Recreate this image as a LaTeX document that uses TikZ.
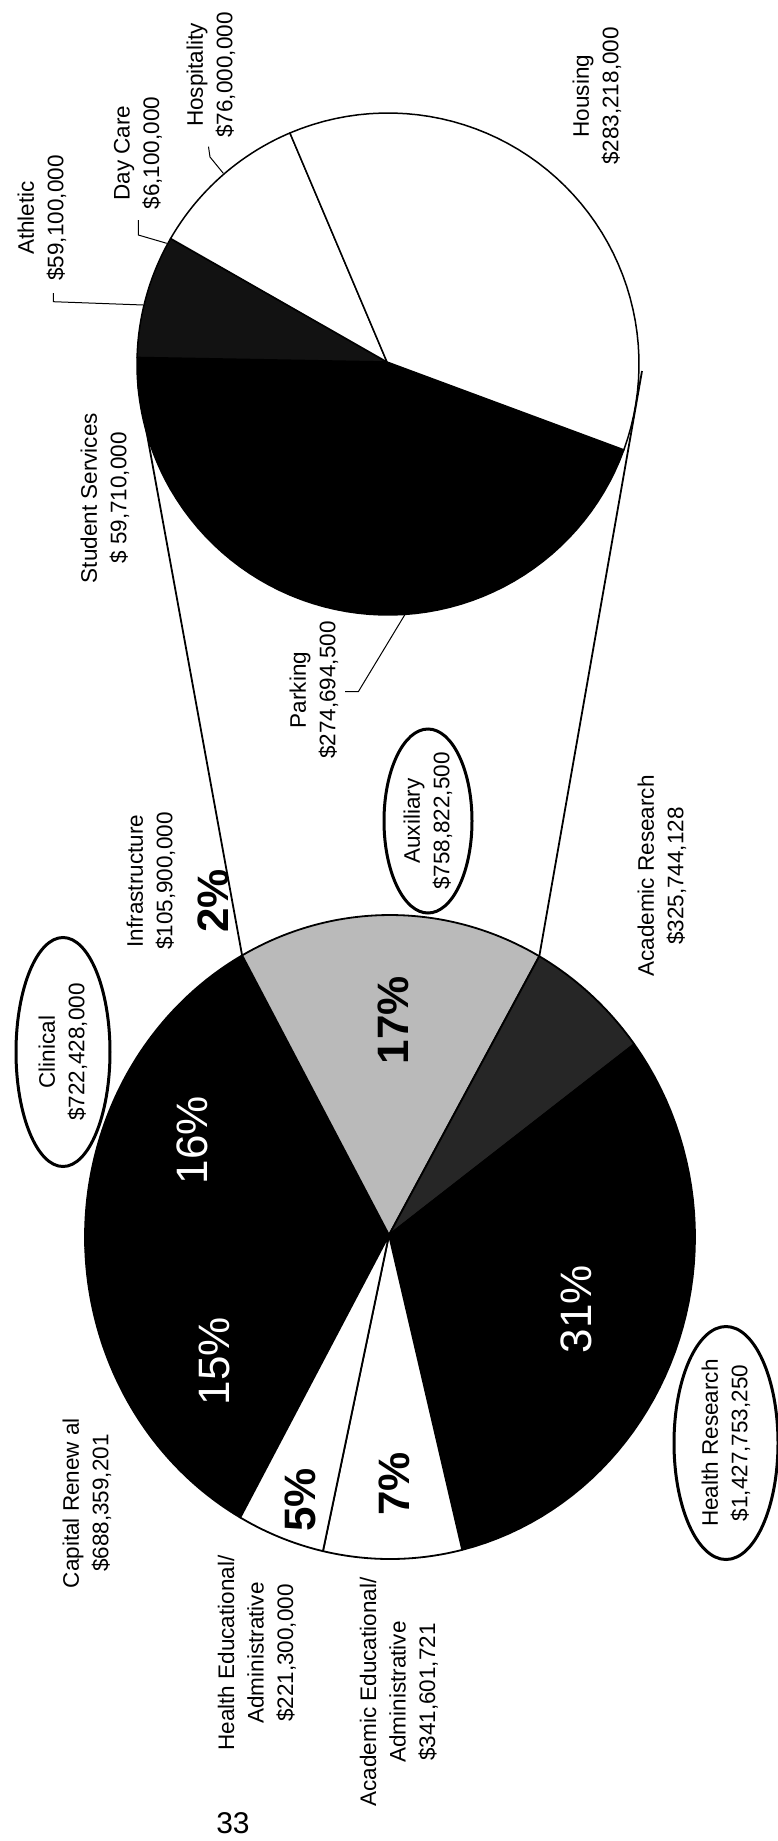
\documentclass[tikz,border=0pt]{standalone}
\usepackage{fontspec}
\setmainfont{Liberation Sans}
\usetikzlibrary{shapes.geometric}
% big pie: centre (390,1237), radii 305 x 322 ; small pie: centre (388,364), radius 251
\newcommand\bigslice[3]{\path[slice,fill=#3] (B) -- plot[domain=#1:#2,samples=50] ({390+305*cos(\x)},{1237+322*sin(\x)}) -- cycle;}
\newcommand\smallslice[3]{\path[sslice,fill=#3] (S) -- plot[domain=#1:#2,samples=50] ({388+251*cos(\x)},{364+251*sin(\x)}) -- cycle;}
\begin{document}
\begin{tikzpicture}[x=1pt,y=-1pt,
  lbl/.style={rotate=90, align=center, font=\fontsize{22.5}{29.5}\selectfont, inner sep=0pt},
  oval/.style={lbl, ellipse, draw=black, line width=3pt, inner ysep=0pt, inner xsep=-4pt},
  pctw/.style={rotate=90, text=white, font=\fontsize{44}{44}\selectfont, inner sep=0pt},
  pctb/.style={rotate=90, text=black, font=\fontsize{44}{44}\selectfont\bfseries, inner sep=0pt},
  slice/.style={draw=black, line width=1.8pt, line join=round},
  sslice/.style={draw=black, line width=1.5pt, line join=round},
  link/.style={draw=black, line width=1.8pt},
  leader/.style={draw=black, line width=1pt}]
\useasboundingbox (0,0) rectangle (778,1841);
\fill[white] (0,0) rectangle (778,1841);

% ---------- big pie ----------
\coordinate (B) at (389,1235);
\bigslice{119.4}{178}{black}
\bigslice{178}{233}{black}
\bigslice{233}{241}{black}
\bigslice{241}{299.3}{black!27}
\bigslice{299.3}{323.2}{black!85}
\bigslice{323.2}{436.3}{black}
\bigslice{76.3}{102.7}{white}
\bigslice{102.7}{119.4}{white}

% ---------- small pie ----------
\coordinate (S) at (387,362);
\smallslice{20}{150}{black}
\smallslice{150}{181.5}{black}
\smallslice{181.5}{210}{black!93}
\smallslice{210}{247}{white}
\smallslice{247}{380}{white}

% ---------- connectors between pies ----------
\coordinate (BL) at (242.1,955.4);
\coordinate (BR) at (539.3,956.2);
\coordinate (SL) at (138,385);
\coordinate (SR) at (642,371);
\draw[link] (BL) -- (SL);
\draw[link] (BR) -- (SR);

% ---------- small pie labels ----------
\node[lbl] (housing) at (597,96) {Housing\\\$283,218,000};
\node[lbl] (hosp) at (211,75) {Hospitality\\\$76,000,000};
\node[lbl] (daycare) at (138,153) {Day Care\\\$6,100,000};
\node[lbl] (athletic) at (42,218) {Athletic\\\$59,100,000};
\node[lbl] (student) at (105,498) {Student Services\\\$ 59,710,000};
\node[lbl] (parking) at (314,690) {Parking\\\$274,694,500};

\coordinate (athP) at (143.3,305);
\coordinate (athA) at (53.3,301.7);
\coordinate (athB) at (53.3,293);
\draw[leader] (athP) -- (athA) -- (athB);
\coordinate (dcP) at (166.7,243.3);
\coordinate (dcA) at (138.3,235);
\coordinate (dcB) at (138.3,220);
\draw[leader] (dcP) -- (dcA) -- (dcB);
\coordinate (hoP) at (223.3,173.3);
\coordinate (hoA) at (210,157);
\coordinate (hoB) at (208.5,146.7);
\draw[leader] (hoP) -- (hoA) -- (hoB);
\coordinate (paP) at (405.7,613.3);
\coordinate (paA) at (358.3,691.7);
\coordinate (paB) at (345,691.7);
\draw[leader] (paP) -- (paA) -- (paB);

% ---------- big pie labels ----------
\node[lbl] (infra) at (151,881) {Infrastructure\\\$105,900,000};
\node[oval, minimum width=184pt, minimum height=88pt, inner xsep=-12pt] (aux) at (428,821) {Auxiliary\\\$758,822,500};
\node[lbl] (acres) at (662,876) {Academic Research\\\$325,744,128};
\node[oval, minimum width=229pt, minimum height=94pt] (clinical) at (63,1052) {Clinical\\\$722,428,000};
\node[lbl] (capital) at (87,1503) {Capital Renew al\\\$688,359,201};
\node[lbl] (healthed) at (257,1653) {Health Educational/\\Administrative\\\$221,300,000};
\node[lbl] (acaded) at (399,1692) {Academic Educational/\\Administrative\\\$341,601,721};
\node[oval, minimum width=233pt, minimum height=104pt] (hres) at (726,1443) {Health Research\\\$1,427,753,250};
\node[font=\fontsize{30}{30}\selectfont, inner sep=0pt] (page) at (233,1823) {33};

% ---------- percentages ----------
\node[pctw] (p16) at (192,1140) {16\%};
\node[pctw] (p15) at (214,1361) {15\%};
\node[pctw] (p31) at (576,1309) {31\%};
\node[pctb] (p17) at (393,1020) {17\%};
\node[pctb] (p5) at (300,1500) {5\%};
\node[pctb] (p7) at (394,1484) {7\%};
\node[pctb] (p2) at (213,901) {2\%};
\end{tikzpicture}
\end{document}
